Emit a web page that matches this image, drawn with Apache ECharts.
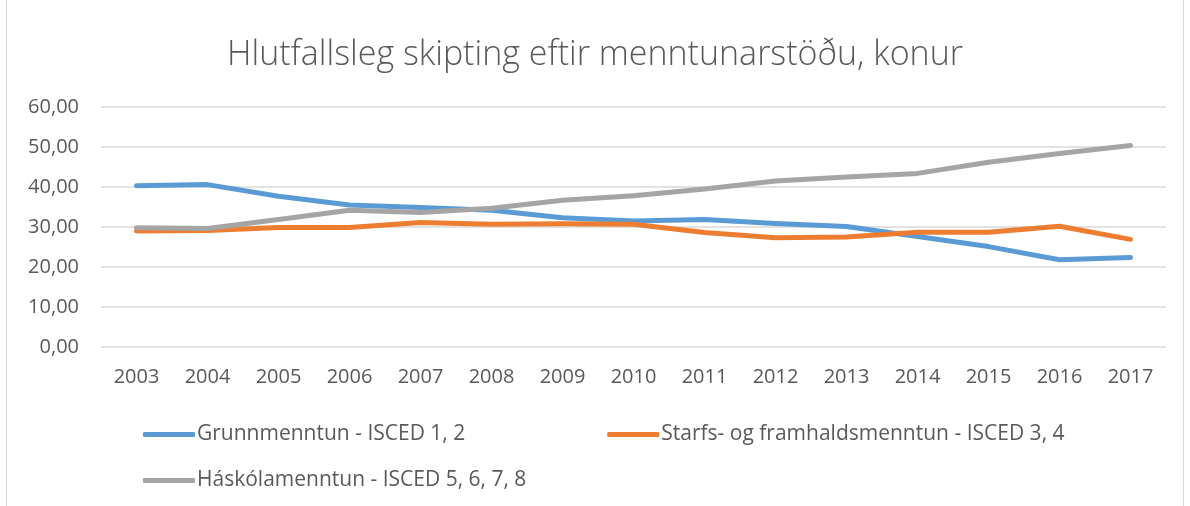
<!DOCTYPE html>
<html>
<head>
<meta charset="utf-8">
<script src="https://cdn.jsdelivr.net/npm/echarts@6/dist/echarts.min.js"></script>
<style>
html, body { margin: 0; padding: 0; background: #fff; }
#chart { width: 1190px; height: 506px; }
</style>
</head>
<body>
<div id="chart"></div>
<script>
var years = ["2003", "2004", "2005", "2006", "2007", "2008", "2009", "2010",
    "2011", "2012", "2013", "2014", "2015", "2016", "2017"];

var grunnmenntun = [40.3, 40.6, 37.7, 35.5, 34.9, 34.2, 32.3, 31.5, 31.9, 30.9, 30.1, 27.6, 25.1, 21.8, 22.4];
var starfsmenntun = [29.0, 29.1, 29.9, 29.9, 31.1, 30.7, 30.8, 30.7, 28.6, 27.3, 27.5, 28.7, 28.7, 30.2, 26.9];
var haskolamenntun = [29.8, 29.6, 31.9, 34.2, 33.6, 34.7, 36.7, 37.8, 39.5, 41.5, 42.5, 43.4, 46.2, 48.4, 50.4];

var seriesNames = [
    "Grunnmenntun - ISCED 1, 2",
    "Starfs- og framhaldsmenntun - ISCED 3, 4",
    "Háskólamenntun - ISCED 5, 6, 7, 8"
];
var colors = ["#5B9BD5", "#ED7D31", "#A5A5A5"];

var font = "'Open Sans', sans-serif";
var textColor = "#595959";

function makeLine(name, data, color) {
    return {
        name: name,
        type: "line",
        data: data,
        symbol: "none",
        lineStyle: { width: 5, color: color, cap: "round", join: "round" },
        itemStyle: { color: color }
    };
}

function makeLegend(names, left, top) {
    return {
        data: names,
        left: left,
        top: top,
        orient: "horizontal",
        itemWidth: 52,
        itemHeight: 5,
        itemGap: 142,
        icon: "roundRect",
        textStyle: { fontFamily: font, fontSize: 21, color: textColor, padding: [0, 0, 0, -3] }
    };
}

var chart = echarts.init(document.getElementById("chart"));
chart.setOption({
    animation: false,
    color: colors,
    title: {
        text: "Hlutfallsleg skipting eftir menntunarstöðu, konur",
        left: "center",
        top: 33,
        textStyle: { fontFamily: font, fontSize: 34, fontWeight: 300, color: textColor }
    },
    graphic: [{
        type: "rect",
        shape: { x: 6.5, y: -1, width: 1177, height: 508 },
        style: { fill: "none", stroke: "#d9d9d9", lineWidth: 1 },
        silent: true
    }],
    legend: [
        makeLegend([seriesNames[0], seriesNames[1]], 138, 419),
        makeLegend([seriesNames[2]], 138, 465)
    ],
    grid: { left: 101, right: 24, top: 107, bottom: 159, containLabel: false },
    xAxis: {
        type: "category",
        data: years,
        boundaryGap: true,
        axisLine: { show: false },
        axisTick: { show: false },
        axisLabel: { fontFamily: font, fontSize: 20, color: textColor, margin: 20 }
    },
    yAxis: {
        type: "value",
        min: 0,
        max: 60,
        interval: 10,
        axisLine: { show: false },
        axisTick: { show: false },
        splitLine: { lineStyle: { color: "#d9d9d9", width: 1.5 } },
        axisLabel: {
            fontFamily: font, fontSize: 20, color: textColor, margin: 22,
            formatter: function (v) { return v.toFixed(2).replace(".", ","); }
        }
    },
    series: [
        makeLine(seriesNames[0], grunnmenntun, colors[0]),
        makeLine(seriesNames[1], starfsmenntun, colors[1]),
        makeLine(seriesNames[2], haskolamenntun, colors[2])
    ]
});
</script>
</body>
</html>
